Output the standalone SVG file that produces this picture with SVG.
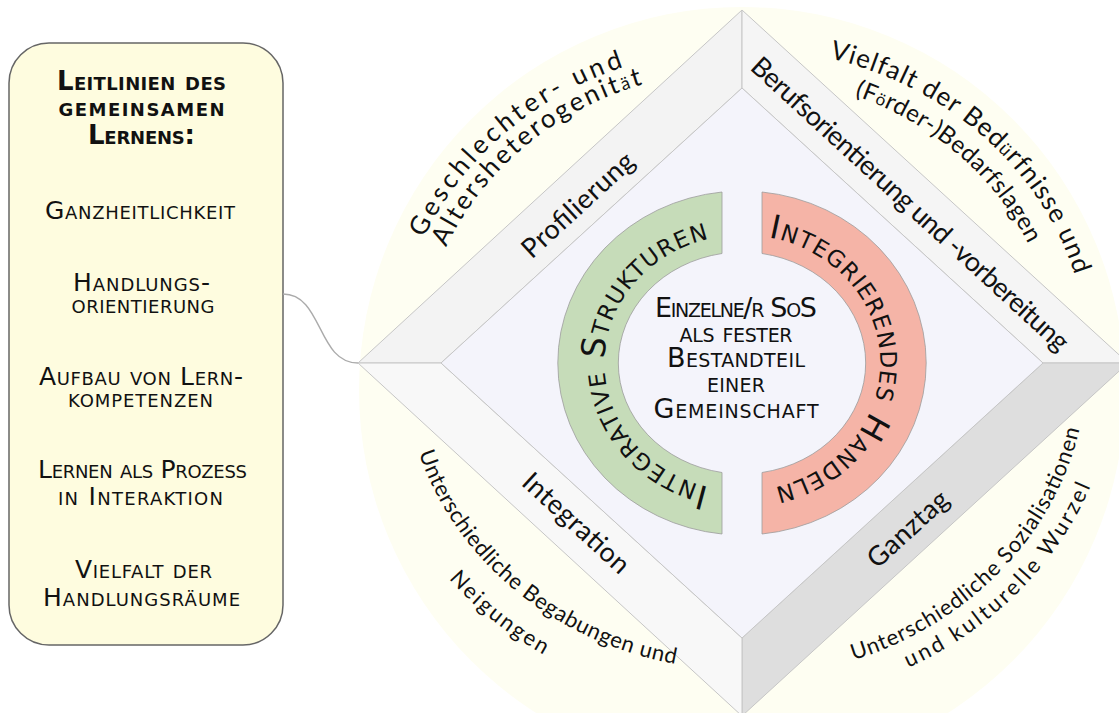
<svg xmlns="http://www.w3.org/2000/svg" width="1119" height="713" viewBox="0 0 1119 713">
  <defs>
    <style>
      .sc { font-family: "DejaVu Sans", "Open Sans", "Liberation Sans", sans-serif; font-variant: small-caps; fill: #111; }
      .lbl { font-family: Lato, "Open Sans", "Liberation Sans", sans-serif; fill: #111; }
      .face { stroke: #c6c6c6; stroke-width: 1; stroke-linejoin: round; }
      .ring { stroke: #9c9c9c; stroke-width: 0.8; }
      .wire { fill: none; stroke: #ababab; stroke-width: 1.4; }
    </style>
    <!-- baselines for the curved texts -->
    <path id="arcGreen" d="M718,489 A138,128 0 0 1 718,237"/>
    <path id="arcRed" d="M762.6,236.4 A138,128 0 0 1 769.3,488.5"/>
    <path id="arcTL1" d="M397.4,330.1 A346.5,315 0 0 1 717.8,48.8"/>
    <path id="arcTL2" d="M422.4,327.3 A322,293 0 0 1 725.2,70.4"/>
    <path id="arcTR1" d="M769.8,49 A346.5,315 0 0 1 1087,333.4"/>
    <path id="arcTR2" d="M763.5,77.3 A314.6,286 0 0 1 1055,332.6"/>
    <path id="arcBL1" d="M406.9,402.8 A338,307 0 0 0 726.6,669.7"/>
    <path id="arcBL2" d="M383.3,469.1 A377.3,343 0 0 0 663.6,698.5"/>
    <path id="arcBR1" d="M794.8,673.3 A345.4,314 0 0 0 1087.3,369.6"/>
    <path id="arcBR2" d="M826.8,694.2 A374,340 0 0 0 1113.3,403.8"/>
  </defs>

  <rect width="1119" height="713" fill="#ffffff"/>

  <!-- pale halo behind the diamond -->
  <g id="halo">
    <circle cx="742" cy="390" r="383" fill="#fefef2"/>
  </g>

  <!-- bevelled diamond -->
  <g id="diamond">
    <polygon class="face" points="358,363 742,10 742,88 441,363" fill="#f3f3f3"/>
    <polygon class="face" points="742,10 1128,363 1043,363 742,88" fill="#f5f5f5"/>
    <polygon class="face" points="1043,363 1128,363 742,716 742,638" fill="#dedede"/>
    <polygon class="face" points="358,363 441,363 742,638 742,716" fill="#f8f8f8"/>
    <polygon class="face" points="742,88 1043,363 742,638 441,363" fill="#f4f4fb"/>
  </g>

  <!-- band labels -->
  <g id="band-profilierung">
    <text class="lbl" font-size="27" text-anchor="middle" dominant-baseline="central" textLength="142" transform="translate(577,204) rotate(-42.5)">Profilierung</text>
  </g>
  <g id="band-beruf">
    <text class="lbl" font-size="27" text-anchor="middle" dominant-baseline="central" textLength="420" transform="translate(911,203) rotate(42.5)">Berufsorientierung und -vorbereitung</text>
  </g>
  <g id="band-ganztag">
    <text class="lbl" font-size="27" text-anchor="middle" dominant-baseline="central" textLength="100" transform="translate(907,528) rotate(-42.5)">Ganztag</text>
  </g>
  <g id="band-integration">
    <text class="lbl" font-size="27" text-anchor="middle" dominant-baseline="central" textLength="135" transform="translate(577,522) rotate(42.5)">Integration</text>
  </g>

  <!-- outer curved labels -->
  <g id="outer-top-left">
    <text class="lbl" font-size="26" text-anchor="middle"><textPath href="#arcTL1" startOffset="50%" textLength="270">Geschlechter- und</textPath></text>
    <text class="lbl" font-size="26" text-anchor="middle"><textPath href="#arcTL2" startOffset="50%" textLength="263">Altersheterogenit<tspan font-size="18">ä</tspan>t</textPath></text>
  </g>
  <g id="outer-top-right">
    <text class="lbl" font-size="26" text-anchor="middle"><textPath href="#arcTR1" startOffset="50%" textLength="342">Vielfalt der Bed<tspan font-size="18">ü</tspan>rfnisse und</textPath></text>
    <text class="lbl" font-size="24" text-anchor="middle"><textPath href="#arcTR2" startOffset="50%" textLength="234">(F<tspan font-size="17">ö</tspan>rder-)Bedarfslagen</textPath></text>
  </g>
  <g id="outer-bottom-left">
    <text class="lbl" font-size="22" text-anchor="middle"><textPath href="#arcBL1" startOffset="50%" textLength="348">Unterschiedliche Begabungen und</textPath></text>
    <text class="lbl" font-size="22" text-anchor="middle"><textPath href="#arcBL2" startOffset="50%" textLength="122">Neigungen</textPath></text>
  </g>
  <g id="outer-bottom-right">
    <text class="lbl" font-size="22" text-anchor="middle"><textPath href="#arcBR1" startOffset="50%" textLength="338">Unterschiedliche Sozialisationen</textPath></text>
    <text class="lbl" font-size="22" text-anchor="middle"><textPath href="#arcBR2" startOffset="50%" textLength="263">und kulturelle Wurzel</textPath></text>
  </g>

  <!-- central half rings -->
  <g id="ring-strukturen">
    <path class="ring" fill="#c6dcb9" d="M722,192 A184,172 0 0 0 722,534 L722,472.5 A124,111 0 0 1 722,253.5 Z"/>
    <text class="sc" font-size="33" text-anchor="middle"><textPath href="#arcGreen" startOffset="50%" textLength="350">Integrative Strukturen</textPath></text>
  </g>
  <g id="ring-handeln">
    <path class="ring" fill="#f5b4a7" d="M762,192 A184,172 0 0 1 762,534 L762,472.5 A124,111 0 0 0 762,253.5 Z"/>
    <text class="sc" font-size="33" text-anchor="middle"><textPath href="#arcRed" startOffset="50%" textLength="358">Integrierendes Handeln</textPath></text>
  </g>

  <!-- core statement -->
  <g id="core" class="sc" font-size="27" text-anchor="middle">
    <text x="736" y="317" textLength="162">Einzelne/r SoS</text>
    <text x="736" y="342" textLength="113">als fester</text>
    <text x="736" y="367" textLength="138">Bestandteil</text>
    <text x="736" y="392" textLength="58">einer</text>
    <text x="736" y="418" textLength="165">Gemeinschaft</text>
  </g>

  <!-- guideline panel -->
  <g id="leitlinien">
    <rect x="9" y="43" width="274" height="602" rx="40" ry="40" fill="#fefcdf" stroke="#666" stroke-width="1.5"/>
    <g class="sc" text-anchor="middle">
      <g font-size="26" font-weight="bold">
        <text x="141.5" y="90" textLength="169">Leitlinien des</text>
        <text x="141.5" y="116" textLength="166">gemeinsamen</text>
        <text x="141.5" y="144" textLength="107">Lernens:</text>
      </g>
      <g font-size="25">
        <text x="140" y="219" textLength="190">Ganzheitlichkeit</text>
        <text x="141.5" y="291" textLength="137">Handlungs-</text>
        <text x="143" y="313" textLength="143">orientierung</text>
        <text x="141" y="385" textLength="204">Aufbau von Lern-</text>
        <text x="140.5" y="407" textLength="145">kompetenzen</text>
        <text x="142.5" y="478" textLength="209">Lernen als Prozess</text>
        <text x="140.5" y="505" textLength="165">in Interaktion</text>
        <text x="143.5" y="578" textLength="137">Vielfalt der</text>
        <text x="141.5" y="606" textLength="197">Handlungsräume</text>
      </g>
    </g>
  </g>

  <!-- connectors -->
  <g id="connectors">
    <path class="wire" d="M283,294 C323,294 317,363 358,363"/>
  </g>
</svg>
